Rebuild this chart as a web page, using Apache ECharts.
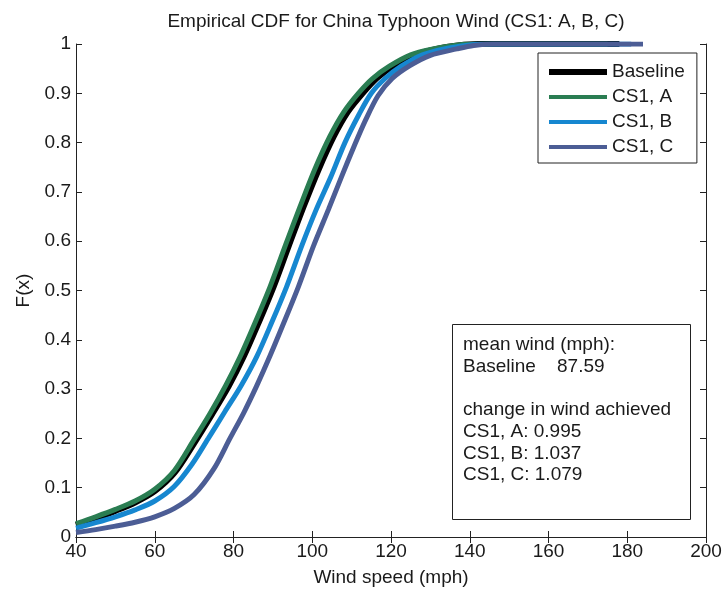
<!DOCTYPE html>
<html>
<head>
<meta charset="utf-8">
<script src="https://cdn.jsdelivr.net/npm/echarts@6/dist/echarts.min.js"></script>
<style>
html,body{margin:0;padding:0;background:#fff;}
#chart{width:726px;height:590px;}
</style>
</head>
<body>
<div id="chart"></div>
<script>
// ---- data ----
var seriesNames = ['Baseline', 'CS1, A', 'CS1, B', 'CS1, C'];
var xTicks = [40, 60, 80, 100, 120, 140, 160, 180, 200];
var yTickLabels = ['0','0.1','0.2','0.3','0.4','0.5','0.6','0.7','0.8','0.9','1'];

// [wind speed (mph), F(x)]
var baseline = [[40,0.024],[45,0.038],[50,0.053],[55,0.070],[60,0.093],[65,0.130],[70,0.190],[74.5,0.248],[78.8,0.306],[82.6,0.366],[86.4,0.435],[90.2,0.508],[94.1,0.592],[97.8,0.670],[101.6,0.745],[105.5,0.813],[109,0.862],[112.8,0.900],[116.3,0.930],[120.5,0.955],[126,0.978],[131.6,0.990],[137,0.997],[142,1.0],[178,1.0]];
var cs1A = [[40,0.027],[45,0.041],[50,0.056],[55,0.073],[60,0.097],[65,0.135],[70,0.198],[74,0.250],[78,0.307],[81.7,0.366],[85.5,0.435],[89.3,0.508],[93.2,0.592],[96.9,0.670],[100.6,0.745],[104.5,0.813],[108,0.862],[111.7,0.900],[115.3,0.930],[119.6,0.955],[125,0.978],[130.7,0.990],[136,0.997],[141,1.0],[175,1.0]];
var cs1B = [[40,0.018],[45,0.029],[50,0.041],[55,0.055],[60,0.073],[65,0.103],[69.5,0.148],[73.6,0.200],[77.8,0.254],[82,0.308],[85.9,0.366],[89.7,0.435],[93.5,0.508],[97.4,0.592],[101,0.664],[104.7,0.730],[108.3,0.800],[111.8,0.856],[115,0.900],[118.5,0.930],[122.6,0.955],[128,0.978],[133.5,0.990],[139,0.997],[144,1.0],[181,1.0]];
var cs1C = [[40,0.009],[45,0.015],[50,0.022],[55,0.030],[60,0.041],[65,0.058],[70,0.086],[75,0.138],[79.1,0.200],[82.6,0.252],[85.8,0.305],[89.2,0.366],[92.8,0.435],[96.5,0.508],[100.3,0.590],[104.1,0.664],[107.4,0.730],[110.6,0.792],[113.5,0.845],[116.7,0.895],[120.3,0.930],[124.8,0.956],[130,0.977],[136.7,0.990],[141,0.997],[146,1.0],[184,1.0]];

var meanWindLabel = 'mean wind (mph):';
var meanWindBaseline = 87.59;
var changeHeader = 'change in wind achieved';
var changeLabels = ['CS1, A', 'CS1, B', 'CS1, C'];
var changeValues = ['0.995', '1.037', '1.079'];

// ---- styling ----
var FONT = '"Liberation Sans", Arial, Helvetica, sans-serif';
var FS = 19;
var TXT = '#1a1a1a';
var colors = ['#000000', '#2a7d52', '#1687d0', '#4c5d95'];
var widths = [6, 5, 5, 5];
var allData = [baseline, cs1A, cs1B, cs1C];

var chart = echarts.init(document.getElementById('chart'), null, {renderer: 'canvas'});

function axisCommon(showLabel) {
  return {
    axisLine: {show: true, lineStyle: {color: '#222', width: 1}},
    axisTick: {show: true, inside: true, length: 6, lineStyle: {color: '#222', width: 1}},
    splitLine: {show: false},
    axisLabel: {show: showLabel, fontFamily: FONT, fontSize: FS, color: TXT}
  };
}

var series = allData.map(function (d, i) {
  return {
    name: seriesNames[i],
    type: 'line',
    data: d,
    xAxisIndex: 0,
    yAxisIndex: 0,
    showSymbol: false,
    symbol: 'none',
    smooth: 0.3,
    lineStyle: {color: colors[i], width: widths[i]},
    itemStyle: {color: colors[i]},
    z: 2 + i,
    animation: false
  };
});

var boxText = [meanWindLabel, 'Baseline    ' + meanWindBaseline.toFixed(2), '', changeHeader]
  .concat(changeLabels.map(function (l, i) { return l + ': ' + changeValues[i]; }));

var option = {
  animation: false,
  backgroundColor: '#fff',
  title: {
    text: 'Empirical CDF for China Typhoon Wind (CS1: A, B, C)',
    left: 391, top: 7, textAlign: 'center',
    textStyle: {fontFamily: FONT, fontSize: FS, fontWeight: 'normal', color: TXT}
  },
  grid: {left: 76, right: 20, top: 44, bottom: 53, containLabel: false, outerBoundsMode: 'none'},
  xAxis: [
    Object.assign({type: 'value', min: 40, max: 200, interval: 20, position: 'bottom',
      name: 'Wind speed (mph)', nameLocation: 'middle', nameGap: 31,
      nameTextStyle: {fontFamily: FONT, fontSize: FS, color: TXT}}, axisCommon(true),
      {axisLabel: {show: true, fontFamily: FONT, fontSize: FS, color: TXT, margin: 5,
        formatter: function (v) { return xTicks.indexOf(v) >= 0 ? String(v) : ''; }}}),
    Object.assign({type: 'value', min: 40, max: 200, interval: 20, position: 'top'}, axisCommon(false))
  ],
  yAxis: [
    Object.assign({type: 'value', min: 0, max: 1, interval: 0.1, position: 'left',
      name: 'F(x)', nameLocation: 'middle', nameGap: 40, nameRotate: 90,
      nameTextStyle: {fontFamily: FONT, fontSize: FS, color: TXT}}, axisCommon(true),
      {axisLabel: {show: true, fontFamily: FONT, fontSize: FS, color: TXT, margin: 5,
        formatter: function (v) { return yTickLabels[Math.round(v * 10)]; }}}),
    Object.assign({type: 'value', min: 0, max: 1, interval: 0.1, position: 'right'}, axisCommon(false))
  ],
  legend: {
    orient: 'vertical',
    left: 538, top: 53,
    padding: [8, 12, 5, 11],
    itemGap: 3,
    itemWidth: 58,
    itemHeight: 10,
    symbolKeepAspect: true,
    borderColor: '#222', borderWidth: 1, borderRadius: 0,
    backgroundColor: '#fff',
    textStyle: {fontFamily: FONT, fontSize: FS, color: TXT, lineHeight: 22},
    data: seriesNames.map(function (n, i) {
      return {name: n, icon: i === 0 ? 'path://M0,0H58V6H0Z' : 'path://M0,0H58V4H0Z', itemStyle: {color: colors[i]}};
    })
  },
  graphic: [
    {
      type: 'rect', z: 100,
      shape: {x: 452.5, y: 324.5, width: 238, height: 195},
      style: {fill: '#fff', stroke: '#222', lineWidth: 1}
    },
    {
      type: 'text', z: 101, left: 463, top: 334,
      style: {text: boxText.join('\n'), font: FS + 'px ' + FONT, fill: TXT, lineHeight: 21.7}
    }
  ],
  series: series
};
chart.setOption(option);
</script>
</body>
</html>
